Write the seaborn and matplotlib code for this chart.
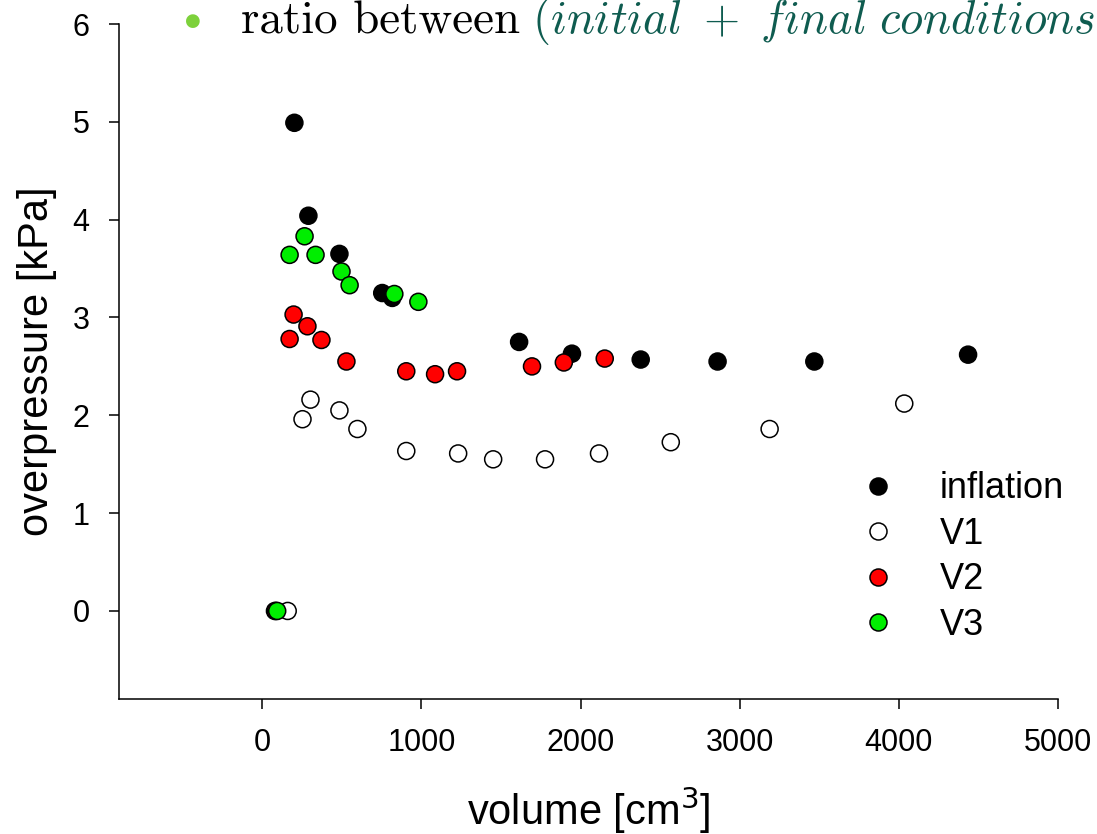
import numpy as np
import pandas as pd
import matplotlib
matplotlib.use("Agg")
import matplotlib.pyplot as plt
import seaborn as sns

# Measured series: volume [cm^3] vs overpressure [kPa]
inflation_x = [80, 202, 290, 485, 754, 817, 1614, 1946, 2378, 2861, 3469, 4435]
inflation_y = [0.0, 4.99, 4.04, 3.65, 3.25, 3.20, 2.75, 2.63, 2.57, 2.55, 2.55, 2.62]

v1_x = [160, 253, 303, 485, 598, 905, 1231, 1451, 1777, 2116, 2567, 3188, 4034]
v1_y = [0.0, 1.96, 2.16, 2.05, 1.86, 1.635, 1.61, 1.55, 1.55, 1.61, 1.725, 1.86, 2.12]

v2_x = [85, 172, 197, 284, 372, 529, 905, 1086, 1224, 1695, 1895, 2152]
v2_y = [0.0, 2.78, 3.03, 2.91, 2.77, 2.55, 2.45, 2.42, 2.45, 2.50, 2.54, 2.58]

v3_x = [94, 172, 266, 335, 498, 549, 830, 981]
v3_y = [0.0, 3.64, 3.83, 3.64, 3.47, 3.33, 3.24, 3.16]

series_names = ["inflation", "V1", "V2", "V3"]
series_colors = {"inflation": "black", "V1": "white", "V2": "#ff0000", "V3": "#00ee00"}

x_ticks = [0, 1000, 2000, 3000, 4000, 5000]
y_ticks = [0, 1, 2, 3, 4, 5, 6]

frames = []
for name, xs, ys in zip(series_names,
                        [inflation_x, v1_x, v2_x, v3_x],
                        [inflation_y, v1_y, v2_y, v3_y]):
    frames.append(pd.DataFrame({"volume": xs, "overpressure": ys, "series": name}))
df = pd.concat(frames, ignore_index=True)

sns.set_style("ticks")
plt.rcParams["font.family"] = ["Liberation Sans", "DejaVu Sans"]
plt.rcParams["text.color"] = "black"
plt.rcParams["axes.labelcolor"] = "black"
plt.rcParams["xtick.color"] = "black"
plt.rcParams["ytick.color"] = "black"

W, H = 1097, 834
fig = plt.figure(figsize=(W / 100, H / 100), dpi=100)
ax = fig.add_axes([119 / W, 1 - 699 / H, (1058 - 119) / W, (699 - 24) / H])

sns.scatterplot(data=df, x="volume", y="overpressure", hue="series",
                hue_order=series_names, palette=series_colors,
                s=150, edgecolor="black", linewidth=1.1, ax=ax, zorder=3)

ax.set_xlim(-900, 5000)
ax.set_ylim(-0.9, 6)
ax.set_xticks(x_ticks)
ax.set_yticks(y_ticks)
ax.tick_params(axis="both", direction="out", length=7.2, width=1.1,
               labelsize=22, pad=14, color="black", labelcolor="black")
for side in ["top", "right"]:
    ax.spines[side].set_visible(False)
for side in ["left", "bottom"]:
    ax.spines[side].set_linewidth(1.1)
    ax.spines[side].set_color("black")

ax.set_xlabel("volume [cm$^3$]", fontsize=30, labelpad=19)
ax.set_ylabel("overpressure [kPa]", fontsize=30, labelpad=11)

handles, labels = ax.get_legend_handles_labels()
ax.legend(handles, labels, frameon=False, fontsize=26, markerscale=1.0,
          handlelength=0.8, handletextpad=1.3, labelspacing=0.29,
          borderpad=0, borderaxespad=0, loc="center left",
          bbox_to_anchor=(864 / W, 1 - 557 / H), bbox_transform=fig.transFigure)

# Caption strip along the top edge
fig.text(193 / W, 1 - 21 / H, "\u25CF", color="#7dd13b", fontsize=13,
         ha="center", va="center", family="DejaVu Sans")
fig.text(241 / W, 1 - 33 / H, "ratio between", family="cmr10", fontsize=33.8,
         color="black", va="baseline", ha="left")
fig.text(532 / W, 1 - 33 / H, r"$\mathit{(initial\ +\ final\ conditions)}$",
         math_fontfamily="cm", fontsize=33.5, color="#0f5c50",
         va="baseline", ha="left")

fig.savefig("out.png", dpi=100)
